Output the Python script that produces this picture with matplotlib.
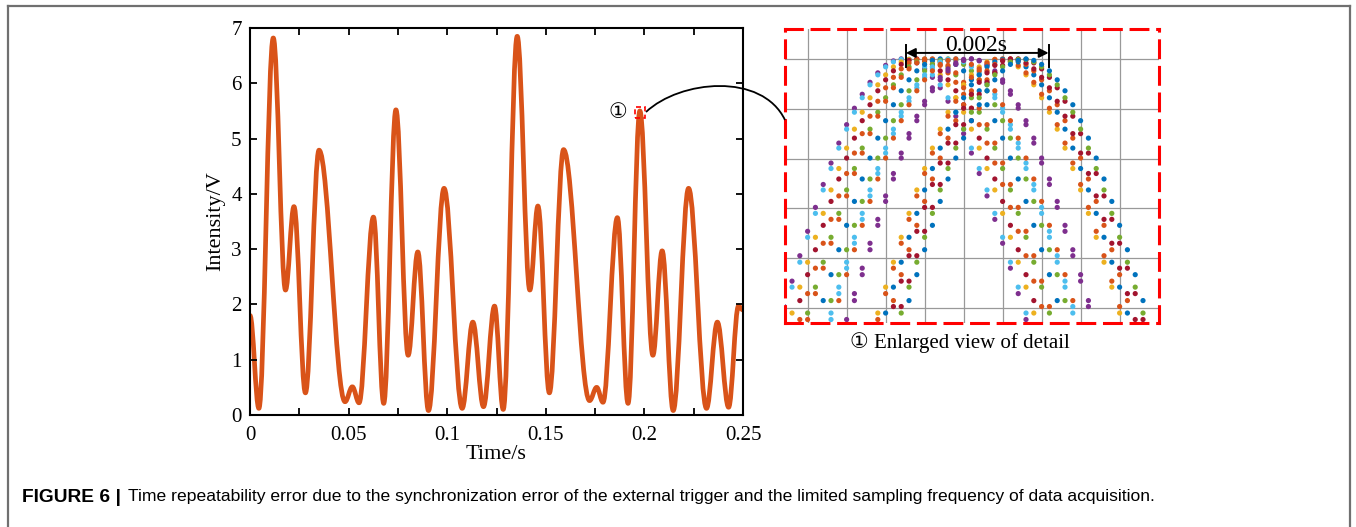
import matplotlib
matplotlib.use("Agg")
import matplotlib.pyplot as plt
import matplotlib.patches as patches
from matplotlib.path import Path
from matplotlib.lines import Line2D

# extrema of the measured signal (time in s, intensity in V)
peak_t = [0, 0.0045, 0.0118, 0.018, 0.0223, 0.0281, 0.035, 0.0482, 0.0519, 0.0553,
          0.0626, 0.0678, 0.074, 0.0802, 0.0851, 0.0905, 0.0984, 0.1076, 0.113, 0.1184,
          0.124, 0.1284, 0.1355, 0.1419, 0.146, 0.1518, 0.159, 0.1722, 0.1758, 0.179,
          0.1863, 0.1917, 0.1977, 0.2043, 0.209, 0.2146, 0.2224, 0.2315, 0.237, 0.2427,
          0.2477, 0.25]
peak_v = [1.8, 0.12, 6.82, 2.26, 3.77, 0.4, 4.79, 0.24, 0.51, 0.22,
          3.58, 0.21, 5.52, 1.08, 2.95, 0.08, 4.1, 0.12, 1.68, 0.15,
          1.97, 0.1, 6.85, 2.26, 3.78, 0.4, 4.8, 0.26, 0.5, 0.23,
          3.57, 0.21, 5.5, 1.08, 2.97, 0.08, 4.1, 0.12, 1.68, 0.14,
          1.97, 1.9]

x_ticks = [0, 0.025, 0.05, 0.075, 0.1, 0.125, 0.15, 0.175, 0.2, 0.225, 0.25]
x_labels = ["0", "", "0.05", "", "0.1", "", "0.15", "", "0.2", "", "0.25"]
y_ticks = [0, 1, 2, 3, 4, 5, 6, 7]

# detail view: sampled peak levels (grid units), one list per sub-sample phase
prof_00 = [0.15, 0.67, 1.17, 1.66, 2.14, 2.59, 3.01, 3.41, 3.76, 4.08, 4.36, 4.58, 4.76,
           4.89, 4.97, 5.00, 4.97, 4.89, 4.76, 4.58, 4.36, 4.08, 3.76, 3.41, 3.01, 2.59,
           2.14, 1.66, 1.17, 0.67, 0.15]
prof_25 = [0.03, 0.54, 1.05, 1.54, 2.02, 2.48, 2.91, 3.31, 3.68, 4.01, 4.29, 4.53, 4.72,
           4.87, 4.96, 5.00, 4.99, 4.92, 4.80, 4.63, 4.42, 4.15, 3.85, 3.50, 3.11, 2.70,
           2.25, 1.78, 1.30, 0.80, 0.29, -0.23]
prof_50 = [-0.10, 0.42, 0.92, 1.42, 1.90, 2.37, 2.80, 3.21, 3.59, 3.93, 4.22, 4.48, 4.68,
           4.84, 4.94, 4.99, 4.99, 4.94, 4.84, 4.68, 4.48, 4.22, 3.93, 3.59, 3.21, 2.80,
           2.37, 1.90, 1.42, 0.92, 0.42, -0.10]
prof_75 = [-0.23, 0.29, 0.80, 1.30, 1.78, 2.25, 2.70, 3.11, 3.50, 3.85, 4.15, 4.42, 4.63,
           4.80, 4.92, 4.99, 5.00, 4.96, 4.87, 4.72, 4.53, 4.29, 4.01, 3.68, 3.31, 2.91,
           2.48, 2.02, 1.54, 1.05, 0.54, 0.03]

# one entry per acquisition: colour, first sample index, phase profile
run_color = ["#7E2F8E", "#4DBEEE", "#EDB120", "#A2142F", "#D95319", "#77AC30",
             "#D95319", "#0072BD", "#77AC30", "#4DBEEE", "#4DBEEE", "#D95319",
             "#7E2F8E", "#7E2F8E", "#EDB120", "#D95319", "#0072BD", "#D95319",
             "#A2142F", "#A2142F", "#77AC30", "#0072BD"]
run_start = [-3, -3, -2, -1, -1, 0, 0, 2, 3, 3, 3, 4, 5, 6, 9, 9, 10, 11, 11, 12, 12, 13]
run_phase = [25, 50, 50, 0, 75, 50, 75, 0, 0, 50, 75, 0, 75, 0, 50, 75, 50, 0, 25, 25,
             50, 0]

W, H = 1356, 527
SERIF = ["Liberation Serif", "DejaVu Serif"]
CIRC = ["Liberation Serif", "DejaVu Sans"]


def fx(x):
    return x / W


def fy(y):
    return 1 - y / H


fig = plt.figure(figsize=(W / 100, H / 100), dpi=100)

# page frame
for xs, ys in [((8, 8), (6, 540)), ((8, 1350), (6, 6)), ((1350, 1350), (6, 540))]:
    fig.add_artist(Line2D([fx(v) for v in xs], [fy(v) for v in ys], color="#707070", lw=1.6))

# main plot
ax = fig.add_axes([fx(250), fy(415), 493 / W, 387 / H])
verts = [(peak_t[0], peak_v[0])]
codes = [Path.MOVETO]
for i in range(1, len(peak_t)):
    t0, v0, t1, v1 = peak_t[i - 1], peak_v[i - 1], peak_t[i], peak_v[i]
    dt = t1 - t0
    verts += [(t0 + 0.363 * dt, v0), (t1 - 0.363 * dt, v1), (t1, v1)]
    codes += [Path.CURVE4] * 3
ax.add_patch(patches.PathPatch(Path(verts, codes), fill=False, edgecolor="#D95319",
                               lw=3.4, capstyle="round", joinstyle="round"))
ax.set_xlim(0, 0.25)
ax.set_ylim(0, 7)
ax.set_xticks(x_ticks)
ax.set_xticklabels(x_labels)
ax.set_yticks(y_ticks)
ax.tick_params(direction="in", top=True, right=True, length=5, width=1.3,
               labelsize=15, pad=6)
ax.tick_params(axis="x", pad=8)
for lab in ax.get_xticklabels() + ax.get_yticklabels():
    lab.set_family(SERIF)
for sp in ax.spines.values():
    sp.set_linewidth(1.5)
ax.set_xlabel("Time/s", family=SERIF, fontsize=16, labelpad=0)
ax.set_ylabel("Intensity/V", family=SERIF, fontsize=16, labelpad=4)

# marker of the enlarged peak
ax.add_patch(patches.Rectangle((0.1952, 5.37), 0.0052, 0.2, fill=False, edgecolor="red",
                               lw=1.2, linestyle=(0, (3, 2))))
ax.text(0.1865, 5.46, "\u2460", family=CIRC, fontsize=15, ha="center", va="center")

# connector to the detail view
arc = Path([(fx(646), fy(112)), (fx(680), fy(80)), (fx(762), fy(72)), (fx(785), fy(120))],
           [Path.MOVETO, Path.CURVE4, Path.CURVE4, Path.CURVE4])
fig.add_artist(patches.PathPatch(arc, fill=False, edgecolor="black", lw=1.3,
                                 transform=fig.transFigure))

# detail view
axi = fig.add_axes([fx(785), fy(323), 374 / W, 294 / H])
axi.set_xlim(-2.9, 45.05)
axi.set_ylim(-0.3, 5.6)
axi.set_xticks(range(0, 45, 5))
axi.set_yticks(range(0, 6))
axi.grid(True, color="#999999", lw=0.9)
axi.set_axisbelow(True)
axi.tick_params(length=0, labelbottom=False, labelleft=False)
for sp in axi.spines.values():
    sp.set_color("red")
    sp.set_linewidth(2.2)
    sp.set_linestyle((0, (5.5, 3.2)))
    sp.set_zorder(5)

profiles = {0: prof_00, 25: prof_25, 50: prof_50, 75: prof_75}
for col, start, ph in zip(run_color, run_start, run_phase):
    levels = profiles[ph]
    samples = list(range(start, start + len(levels)))
    axi.scatter(samples, levels, s=14, color=col, edgecolors="none", zorder=3)

axi.annotate("", xy=(12.6, 5.12), xytext=(30.9, 5.12),
             arrowprops=dict(arrowstyle="<|-|>", color="black", lw=1.4,
                             mutation_scale=14, shrinkA=0, shrinkB=0), zorder=6)
axi.plot([12.6, 12.6], [4.84, 5.28], color="black", lw=1.4, zorder=6)
axi.plot([30.9, 30.9], [4.84, 5.28], color="black", lw=1.4, zorder=6)
axi.text(21.6, 5.05, "0.002s", family=SERIF, fontsize=17, ha="center", va="bottom",
         zorder=6)

fig.text(fx(960), fy(343), "\u2460 Enlarged view of detail", family=CIRC, fontsize=15,
         ha="center", va="center")

# caption
fig.text(fx(22), fy(497), "FIGURE 6 |", family="Liberation Sans", weight="bold",
         fontsize=13.8, ha="left", va="center")
fig.text(fx(128), fy(497), "Time repeatability error due to the synchronization error of "
         "the external trigger and the limited sampling frequency of data acquisition.",
         family="Liberation Sans", fontsize=12.6, ha="left", va="center")

fig.savefig("out.png", dpi=100)
